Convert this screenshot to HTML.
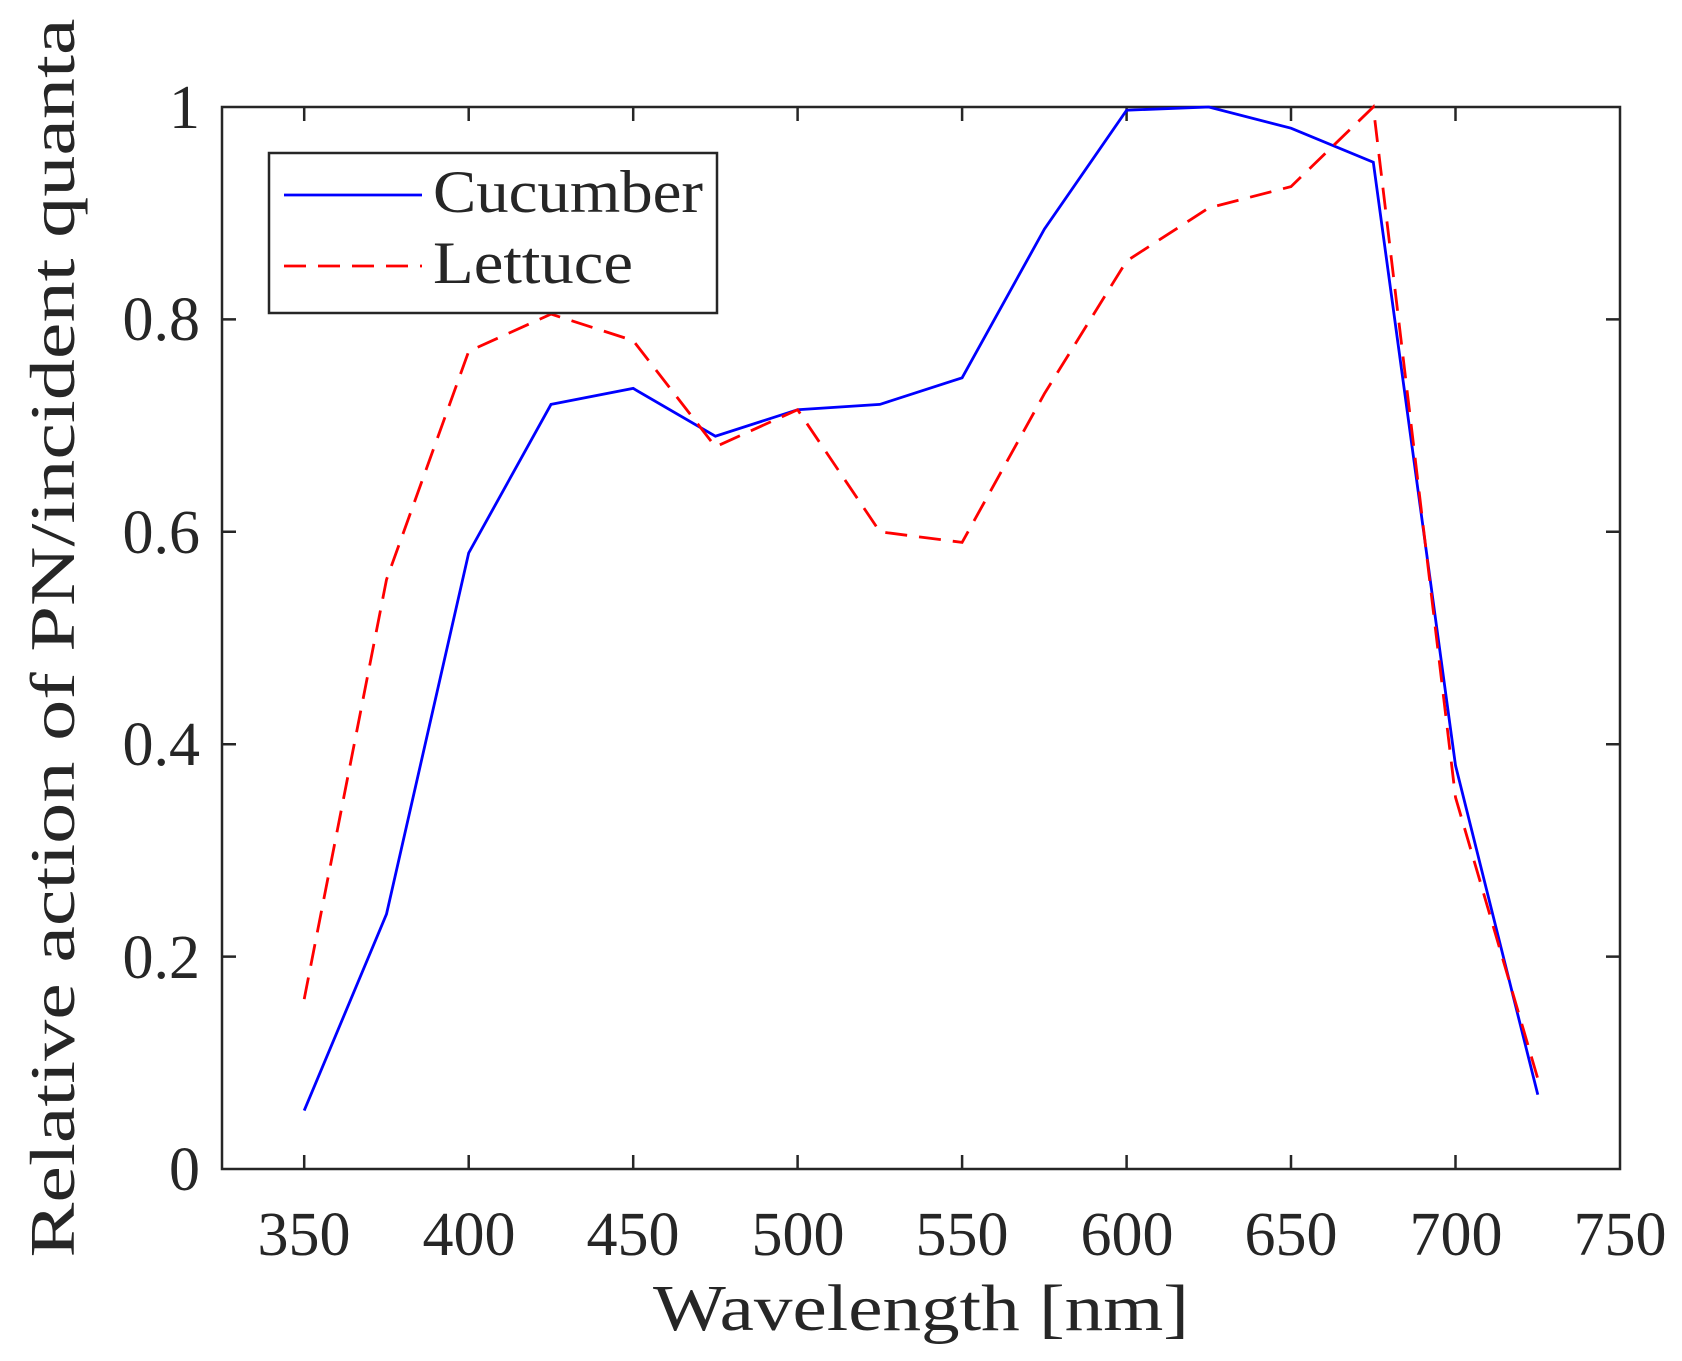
<!DOCTYPE html>
<html><head><style>body{margin:0;background:#fff}svg{display:block}</style></head>
<body>
<svg width="1682" height="1361" viewBox="0 0 1682 1361" xmlns="http://www.w3.org/2000/svg" font-family="'Liberation Serif', serif" fill="#262626">
<rect width="1682" height="1361" fill="#fff"/>
<g stroke="#262626" stroke-width="2.5">
<rect x="222" y="107" width="1398" height="1062" fill="none"/>
<path d="M304.2 1169v-14M468.7 1169v-14M633.2 1169v-14M797.6 1169v-14M962.1 1169v-14M1126.6 1169v-14M1291 1169v-14M1455.5 1169v-14M304.2 107v14M468.7 107v14M633.2 107v14M797.6 107v14M962.1 107v14M1126.6 107v14M1291 107v14M1455.5 107v14"/>
<path d="M222 956.6h14M222 744.2h14M222 531.8h14M222 319.4h14M1620 956.6h-14M1620 744.2h-14M1620 531.8h-14M1620 319.4h-14"/>
</g>
<g font-size="62" text-anchor="middle">
<text x="304" y="1255">350</text><text x="469" y="1255">400</text><text x="633" y="1255">450</text><text x="798" y="1255">500</text><text x="962" y="1255">550</text><text x="1127" y="1255">600</text><text x="1291" y="1255">650</text><text x="1456" y="1255">700</text><text x="1620" y="1255">750</text>
</g>
<g font-size="62" text-anchor="end">
<text x="200" y="1190">0</text><text x="200" y="978">0.2</text><text x="200" y="765">0.4</text><text x="200" y="553">0.6</text><text x="200" y="340">0.8</text><text x="200" y="128">1</text>
</g>
<text x="921" y="1330" font-size="66" text-anchor="middle" textLength="536" lengthAdjust="spacingAndGlyphs">Wavelength [nm]</text>
<text transform="translate(74,638) rotate(-90)" font-size="64" text-anchor="middle" textLength="1239" lengthAdjust="spacingAndGlyphs">Relative action of PN/incident quanta</text>
<polyline fill="none" stroke="#0000ff" stroke-width="2.8" points="304.2,1110.6 386.5,914.1 468.7,553 551,404.4 633.2,388.4 715.4,436.2 797.6,409.7 879.9,404.4 962.1,377.8 1044.4,229.1 1126.6,110.2 1208.8,107 1291,128.2 1373.3,162.2 1455.5,765.4 1537.8,1094.7"/>
<polyline fill="none" stroke="#ff0000" stroke-width="2.8" stroke-dasharray="22,12" points="304.2,999.1 386.5,579.6 468.7,351.3 551,314.1 633.2,340.6 715.4,446.8 797.6,409.7 879.9,531.8 962.1,542.4 1044.4,393.7 1126.6,261 1208.8,207.9 1291,186.6 1373.3,107 1455.5,797.3 1537.8,1078.7"/>
<rect x="269" y="153" width="448" height="160" fill="#fff" stroke="#262626" stroke-width="2.5"/>
<line x1="284" y1="195" x2="422" y2="195" stroke="#0000ff" stroke-width="2.8"/>
<line x1="284" y1="266" x2="422" y2="266" stroke="#ff0000" stroke-width="2.8" stroke-dasharray="22,12"/>
<text x="433" y="212" font-size="60" textLength="270" lengthAdjust="spacingAndGlyphs">Cucumber</text>
<text x="433" y="283" font-size="60" textLength="200" lengthAdjust="spacingAndGlyphs">Lettuce</text>
</svg>
</body></html>
